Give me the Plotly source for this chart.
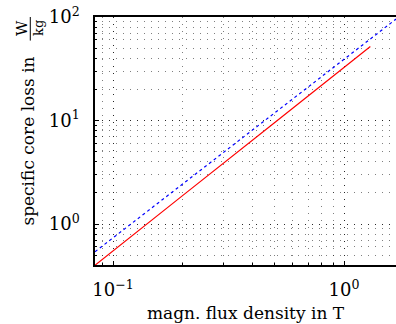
import plotly.graph_objects as go

# magnetic flux density (T) and specific core loss (W/kg)
b_red = [0.0836, 0.1, 0.2, 0.5, 1.0, 1.3]
p_red = [0.40, 0.552, 1.88, 9.5, 32.5, 51.8]

b_blue = [0.0836, 0.1, 0.2, 0.5, 1.0, 1.68]
p_blue = [0.54, 0.735, 2.43, 11.8, 39.1, 95.5]

x_tickvals = [0.1, 1]
x_ticktext = ["10<sup>−1</sup>", "10<sup>0</sup>"]
y_tickvals = [1, 10, 100]
y_ticktext = ["10<sup>0</sup>", "10<sup>1</sup>", "10<sup>2</sup>"]

x_title = "magn. flux density in T"
y_title = "specific core loss in"
unit_num = "W"
unit_den = "kg"

font = "DejaVu Serif"

fig = go.Figure()
fig.add_trace(go.Scatter(x=b_red, y=p_red, mode="lines",
                         line=dict(color="#ff0000", width=1.2)))
fig.add_trace(go.Scatter(x=b_blue, y=p_blue, mode="lines",
                         line=dict(color="#0000ff", width=1.2, dash="3px,3px")))

axis_common = dict(
    type="log", showline=True, linecolor="black", linewidth=1.5,
    ticks="inside", ticklen=4, tickcolor="black", automargin=False,
    showgrid=True, gridcolor="rgba(0,0,0,0.7)", gridwidth=1, griddash="1px,6px",
    zeroline=False,
    tickfont=dict(family=font, size=18, color="black"),
    minor=dict(dtick="D1", showgrid=True, gridcolor="rgba(0,0,0,0.5)",
               griddash="1px,6px", gridwidth=1, ticks="inside", ticklen=2,
               tickcolor="black"),
)

fig.update_xaxes(range=[-1.078, 0.225], mirror=True, ticklabelstandoff=8,
                 tickvals=x_tickvals, ticktext=x_ticktext,
                 title=dict(text=x_title, font=dict(family=font, size=17, color="black"), standoff=8),
                 **axis_common)
fig.update_yaxes(range=[-0.396, 2.0], mirror=False, ticklabelstandoff=10,
                 tickvals=y_tickvals, ticktext=y_ticktext,
                 title=dict(text=y_title, font=dict(family=font, size=17, color="black"), standoff=10),
                 **axis_common)

# fraction W/kg in the y-axis title
fig.add_annotation(text=unit_num, xref="paper", yref="paper", x=-0.243, y=0.955,
                   showarrow=False, textangle=-90, xanchor="center", yanchor="middle",
                   font=dict(family=font, size=15, color="black"))
fig.add_annotation(text=unit_den, xref="paper", yref="paper", x=-0.19, y=0.955,
                   showarrow=False, textangle=-90, xanchor="center", yanchor="middle",
                   font=dict(family=font, size=13, color="black"))
fig.add_shape(type="line", xref="paper", yref="paper", x0=-0.215, x1=-0.215,
              y0=0.905, y1=1.0, line=dict(color="black", width=1))

fig.update_layout(
    width=396, height=324,
    margin=dict(l=95, r=0, t=17, b=59),
    paper_bgcolor="white", plot_bgcolor="white",
    showlegend=False,
)

fig.write_html("out.html", config={"displayModeBar": False})

# remove the default page margin so the figure fills the window exactly
with open("out.html", encoding="utf-8") as f:
    html = f.read()
html = html.replace("<body>", '<body style="margin:0;overflow:hidden">', 1)
with open("out.html", "w", encoding="utf-8") as f:
    f.write(html)
